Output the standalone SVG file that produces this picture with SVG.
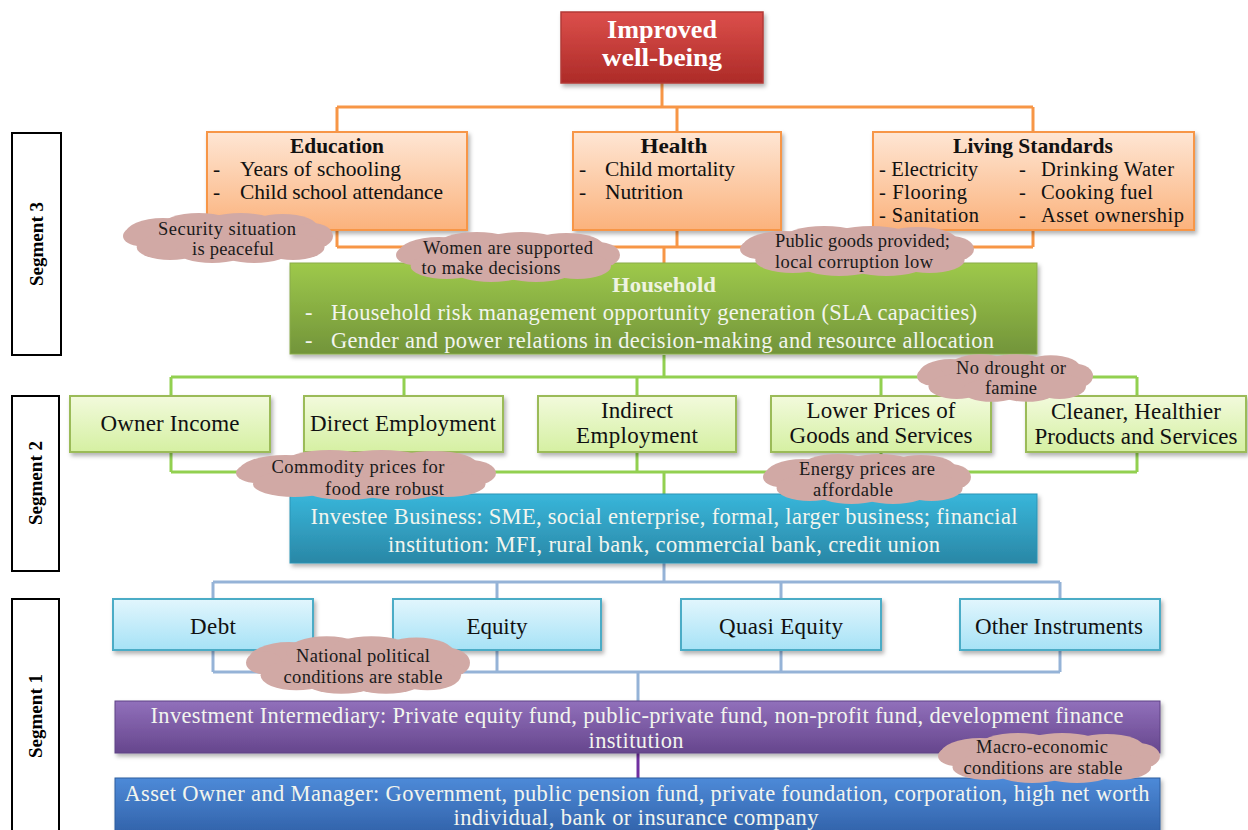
<svg xmlns="http://www.w3.org/2000/svg" xmlns:xlink="http://www.w3.org/1999/xlink" width="1248" height="830" viewBox="0 0 1248 830">
<defs>
<linearGradient id="gRed" x1="0" y1="0" x2="0" y2="1"><stop offset="0" stop-color="#dc4f4b"/><stop offset="1" stop-color="#ad2b28"/></linearGradient>
<linearGradient id="gOrange" x1="0" y1="0" x2="0" y2="1"><stop offset="0" stop-color="#fee6d4"/><stop offset="1" stop-color="#fbb27c"/></linearGradient>
<linearGradient id="gGreen" x1="0" y1="0" x2="0" y2="1"><stop offset="0" stop-color="#9ec94b"/><stop offset="1" stop-color="#72943a"/></linearGradient>
<linearGradient id="gLime" x1="0" y1="0" x2="0" y2="1"><stop offset="0" stop-color="#f2fadc"/><stop offset="1" stop-color="#d5f0a2"/></linearGradient>
<linearGradient id="gTeal" x1="0" y1="0" x2="0" y2="1"><stop offset="0" stop-color="#38b6da"/><stop offset="1" stop-color="#2a87a6"/></linearGradient>
<linearGradient id="gCyan" x1="0" y1="0" x2="0" y2="1"><stop offset="0" stop-color="#e2f6fd"/><stop offset="1" stop-color="#a6e2f6"/></linearGradient>
<linearGradient id="gPurple" x1="0" y1="0" x2="0" y2="1"><stop offset="0" stop-color="#9170bb"/><stop offset="1" stop-color="#66468d"/></linearGradient>
<linearGradient id="gBlue" x1="0" y1="0" x2="0" y2="1"><stop offset="0" stop-color="#4d8ad8"/><stop offset="1" stop-color="#2f5fa6"/></linearGradient>
<filter id="sh" x="-5%" y="-10%" width="110%" height="130%"><feDropShadow dx="2" dy="3" stdDeviation="2" flood-color="#000" flood-opacity="0.3"/></filter>
<g id="cloud">
<ellipse cx="0" cy="0" rx="88" ry="19"/>
<ellipse cx="-62" cy="-4" rx="36" ry="16"/>
<ellipse cx="-28" cy="-11" rx="36" ry="14"/>
<ellipse cx="12" cy="-13" rx="36" ry="12"/>
<ellipse cx="52" cy="-10" rx="34" ry="14"/>
<ellipse cx="80" cy="-2" rx="20" ry="13"/>
<ellipse cx="-84" cy="-2" rx="16" ry="10"/>
<ellipse cx="-55" cy="9" rx="32" ry="13"/>
<ellipse cx="-15" cy="13" rx="34" ry="12"/>
<ellipse cx="25" cy="13" rx="34" ry="12"/>
<ellipse cx="62" cy="9" rx="30" ry="13"/>
</g>
</defs>
<style>
text{font-family:"Liberation Serif","Times New Roman",serif;}
.seg{fill:#fff;stroke:#000;stroke-width:2;}
.segt{font-size:18px;font-weight:bold;fill:#000;text-anchor:middle;}
.c{fill:none;stroke-width:3;}
.co{stroke:#f79646;}
.cg{stroke:#92d050;}
.cb{stroke:#95b3d7;}
.cp{stroke:#7030a0;}
.b20{font-size:21.5px;fill:#111;}
.ls{font-size:20.5px;fill:#111;}
.bx{font-size:23px;fill:#111;}
.mid{text-anchor:middle;}
.hd{font-size:21px;font-weight:bold;fill:#111;text-anchor:middle;}
.wt{font-size:22.5px;fill:#f2f5ee;}
.cl{fill:#d1a9a5;}
.ct{font-size:18.5px;fill:#1a1a1a;}
</style>
<rect width="1248" height="830" fill="#fff"/>

<g id="segments">
<rect class="seg" x="12" y="133" width="49" height="222"/>
<text class="segt" transform="translate(43,244) rotate(-90)" textLength="84" lengthAdjust="spacingAndGlyphs">Segment 3</text>
<rect class="seg" x="12" y="396" width="47" height="175"/>
<text class="segt" transform="translate(42,483) rotate(-90)" textLength="84" lengthAdjust="spacingAndGlyphs">Segment 2</text>
<rect class="seg" x="12" y="599" width="47" height="240"/>
<text class="segt" transform="translate(42,716) rotate(-90)" textLength="84" lengthAdjust="spacingAndGlyphs">Segment 1</text>
</g>

<g id="connectors">
<path class="c co" d="M662 83V107M337 107H1033M337 107V132M677 107V132M1033 107V132"/>
<path class="c co" d="M337 230V247M677 230V247M1033 230V247M337 247H1033M664 247V263"/>
<path class="c cg" d="M664 355V377M171 377H1137M171 377V396M404 377V396M637 377V396M881 377V396M1137 377V396"/>
<path class="c cg" d="M171 452V472M404 452V472M637 452V472M881 452V472M1137 452V472M171 472H1137M664 472V494"/>
<path class="c cb" d="M664 563V582M213 582H1060M213 582V599M497 582V599M781 582V599M1060 582V599"/>
<path class="c cb" d="M213 650V672M497 650V672M781 650V672M1060 650V672M213 672H1060M638 672V701"/>
<path class="c cp" d="M638 753V778"/>
</g>

<g id="improved">
<rect x="561" y="12" width="202" height="71" fill="url(#gRed)" stroke="#b33a37" stroke-width="1.5" filter="url(#sh)"/>
<text x="662" y="38" fill="#fff" font-size="26" font-weight="bold" text-anchor="middle" textLength="110" lengthAdjust="spacingAndGlyphs">Improved</text>
<text x="662" y="66" fill="#fff" font-size="26" font-weight="bold" text-anchor="middle" textLength="120" lengthAdjust="spacingAndGlyphs">well-being</text>
</g>

<g id="education">
<rect x="207" y="132" width="260" height="98" fill="url(#gOrange)" stroke="#f79646" stroke-width="2" filter="url(#sh)"/>
<text class="hd" x="337" y="153" textLength="94" lengthAdjust="spacingAndGlyphs">Education</text>
<text class="b20" x="213" y="176">-</text><text class="b20" x="240" y="176" textLength="161">Years of schooling</text>
<text class="b20" x="213" y="199">-</text><text class="b20" x="240" y="199" textLength="203">Child school attendance</text>
</g>

<g id="health">
<rect x="573" y="132" width="208" height="98" fill="url(#gOrange)" stroke="#f79646" stroke-width="2" filter="url(#sh)"/>
<text class="hd" x="674" y="153" textLength="67" lengthAdjust="spacingAndGlyphs">Health</text>
<text class="b20" x="579" y="176">-</text><text class="b20" x="605" y="176" textLength="130">Child mortality</text>
<text class="b20" x="579" y="199">-</text><text class="b20" x="605" y="199" textLength="78">Nutrition</text>
</g>

<g id="living">
<rect x="873" y="132" width="321" height="98" fill="url(#gOrange)" stroke="#f79646" stroke-width="2" filter="url(#sh)"/>
<text class="hd" x="1033" y="153" textLength="160" lengthAdjust="spacingAndGlyphs">Living  Standards</text>
<text class="ls" x="879" y="176" textLength="99">- Electricity</text>
<text class="ls" x="879" y="199" textLength="88">- Flooring</text>
<text class="ls" x="879" y="222" textLength="100">- Sanitation</text>
<text class="ls" x="1019" y="176">-</text><text class="ls" x="1041" y="176" textLength="133">Drinking Water</text>
<text class="ls" x="1019" y="199">-</text><text class="ls" x="1041" y="199" textLength="112">Cooking fuel</text>
<text class="ls" x="1019" y="222">-</text><text class="ls" x="1041" y="222" textLength="143">Asset ownership</text>
</g>

<g id="household">
<rect x="290" y="263" width="747" height="91" fill="url(#gGreen)" stroke="#8aac4a" stroke-width="1" filter="url(#sh)"/>
<text x="664" y="292" font-size="21" font-weight="bold" fill="#eef3e0" text-anchor="middle" textLength="104" lengthAdjust="spacingAndGlyphs">Household</text>
<text class="wt" x="305" y="320">-</text><text class="wt" x="331" y="320" textLength="646">Household risk management opportunity generation (SLA capacities)</text>
<text class="wt" x="305" y="348">-</text><text class="wt" x="331" y="348" textLength="663">Gender and power relations in decision-making and resource allocation</text>
</g>

<g id="owner-income">
<rect x="70" y="396" width="200" height="56" fill="url(#gLime)" stroke="#9bbb59" stroke-width="2" filter="url(#sh)"/>
<text class="bx mid" x="170" y="431" textLength="139">Owner Income</text>
</g>
<g id="direct-employment">
<rect x="304" y="396" width="199" height="56" fill="url(#gLime)" stroke="#9bbb59" stroke-width="2" filter="url(#sh)"/>
<text class="bx mid" x="403" y="431" textLength="186">Direct Employment</text>
</g>
<g id="indirect-employment">
<rect x="538" y="396" width="198" height="56" fill="url(#gLime)" stroke="#9bbb59" stroke-width="2" filter="url(#sh)"/>
<text class="bx mid" x="637" y="418" textLength="72">Indirect</text>
<text class="bx mid" x="637" y="443" textLength="122">Employment</text>
</g>
<g id="lower-prices">
<rect x="771" y="396" width="220" height="56" fill="url(#gLime)" stroke="#9bbb59" stroke-width="2" filter="url(#sh)"/>
<text class="bx mid" x="881" y="418" textLength="149">Lower Prices of</text>
<text class="bx mid" x="881" y="443" textLength="183">Goods and Services</text>
</g>
<g id="cleaner">
<rect x="1026" y="396" width="220" height="56" fill="url(#gLime)" stroke="#9bbb59" stroke-width="2" filter="url(#sh)"/>
<text class="bx mid" x="1136" y="419" textLength="170">Cleaner, Healthier</text>
<text class="bx mid" x="1136" y="444" textLength="203">Products and Services</text>
</g>

<g id="investee">
<rect x="290" y="494" width="747" height="69" fill="url(#gTeal)" stroke="#2b93b5" stroke-width="1" filter="url(#sh)"/>
<text class="wt mid" x="664" y="524" textLength="707">Investee Business: SME, social enterprise, formal, larger business; financial</text>
<text class="wt mid" x="664" y="552" textLength="552">institution: MFI, rural bank, commercial bank, credit union</text>
</g>

<g id="debt">
<rect x="113" y="599" width="200" height="51" fill="url(#gCyan)" stroke="#4bacc6" stroke-width="2" filter="url(#sh)"/>
<text class="bx mid" x="213" y="634" textLength="46">Debt</text>
</g>
<g id="equity">
<rect x="393" y="599" width="208" height="51" fill="url(#gCyan)" stroke="#4bacc6" stroke-width="2" filter="url(#sh)"/>
<text class="bx mid" x="497" y="634" textLength="61">Equity</text>
</g>
<g id="quasi-equity">
<rect x="681" y="599" width="200" height="51" fill="url(#gCyan)" stroke="#4bacc6" stroke-width="2" filter="url(#sh)"/>
<text class="bx mid" x="781" y="634" textLength="124">Quasi Equity</text>
</g>
<g id="other-instruments">
<rect x="960" y="599" width="200" height="51" fill="url(#gCyan)" stroke="#4bacc6" stroke-width="2" filter="url(#sh)"/>
<text class="bx mid" x="1059" y="634" textLength="168">Other Instruments</text>
</g>

<g id="intermediary">
<rect x="115" y="701" width="1045" height="52" fill="url(#gPurple)" stroke="#5f4385" stroke-width="1" filter="url(#sh)"/>
<text class="wt mid" x="637" y="723" textLength="973">Investment Intermediary: Private equity fund, public-private  fund, non-profit fund, development finance</text>
<text class="wt mid" x="636" y="748" textLength="95">institution</text>
</g>

<g id="asset-owner">
<rect x="115" y="778" width="1045" height="60" fill="url(#gBlue)" stroke="#2f5d9e" stroke-width="1" filter="url(#sh)"/>
<text class="wt mid" x="637" y="801" textLength="1025">Asset Owner and Manager: Government, public pension fund, private foundation, corporation, high net worth</text>
<text class="wt mid" x="636" y="825" textLength="365">individual, bank or insurance company</text>
</g>

<g id="assumptions">
<g id="cloud-security"><use xlink:href="#cloud" href="#cloud" class="cl" transform="translate(228,238) scale(1.05,1.0)"/>
<text class="ct mid" x="227" y="235" textLength="138">Security situation</text><text class="ct mid" x="233" y="255" textLength="82">is peaceful</text></g>
<g id="cloud-women"><use xlink:href="#cloud" href="#cloud" class="cl" transform="translate(508,257) scale(1.12,1.0)"/>
<text class="ct mid" x="508" y="254" textLength="170">Women are supported</text><text class="ct mid" x="491" y="274" textLength="139">to make decisions</text></g>
<g id="cloud-public"><use xlink:href="#cloud" href="#cloud" class="cl" transform="translate(857,251) scale(1.17,1.0)"/>
<text class="ct" x="775" y="247" textLength="175">Public goods provided;</text><text class="ct" x="775" y="268" textLength="158">local corruption low</text></g>
<g id="cloud-drought"><use xlink:href="#cloud" href="#cloud" class="cl" transform="translate(1005,378) scale(0.88,0.95)"/>
<text class="ct mid" x="1011" y="374" textLength="110">No drought or</text><text class="ct mid" x="1011" y="394" textLength="52">famine</text></g>
<g id="cloud-commodity"><use xlink:href="#cloud" href="#cloud" class="cl" transform="translate(366,475) scale(1.3,1.0)"/>
<text class="ct mid" x="358" y="473" textLength="173">Commodity prices  for</text><text class="ct" text-anchor="end" x="444" y="495" textLength="119">food are robust</text></g>
<g id="cloud-energy"><use xlink:href="#cloud" href="#cloud" class="cl" transform="translate(867,479) scale(1.04,1.0)"/>
<text class="ct mid" x="867" y="475" textLength="136">Energy prices are</text><text class="ct mid" x="853" y="496" textLength="80">affordable</text></g>
<g id="cloud-political"><use xlink:href="#cloud" href="#cloud" class="cl" transform="translate(358,665) scale(1.12,1.15)"/>
<text class="ct mid" x="363" y="662" textLength="134">National political</text><text class="ct mid" x="363" y="683" textLength="159">conditions are stable</text></g>
<g id="cloud-macro"><use xlink:href="#cloud" href="#cloud" class="cl" transform="translate(1049,758) scale(1.11,1.0)"/>
<text class="ct mid" x="1042" y="753" textLength="132">Macro-economic</text><text class="ct mid" x="1043" y="774" textLength="159">conditions are stable</text></g>
</g>
</svg>
